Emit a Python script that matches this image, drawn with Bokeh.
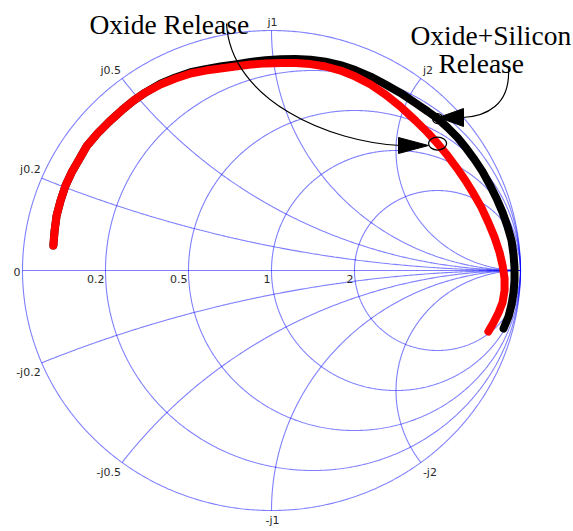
import numpy as np
from bokeh.plotting import figure
from bokeh.models import Range1d
from bokeh.embed import file_html
from bokeh.resources import INLINE
from bokeh.core.properties import value

# ---------------- data (reflection coefficient, real / imaginary) ----------------
oxide_re = [-0.876, -0.871, -0.863, -0.847, -0.827, -0.803, -0.775, -0.743, -0.699,
            -0.651, -0.602, -0.554, -0.506, -0.446, -0.386, -0.325, -0.265, -0.205,
            -0.145, -0.084, -0.024, 0.036, 0.096, 0.157, 0.217, 0.277, 0.337, 0.398,
            0.458, 0.518, 0.578, 0.627, 0.667, 0.707, 0.743, 0.779, 0.811, 0.843,
            0.871, 0.896, 0.916, 0.928, 0.936, 0.936, 0.928, 0.912, 0.892, 0.871]
oxide_im = [0.104, 0.167, 0.229, 0.292, 0.354, 0.408, 0.458, 0.517, 0.571,
            0.621, 0.667, 0.708, 0.742, 0.775, 0.800, 0.821, 0.833, 0.842,
            0.850, 0.858, 0.863, 0.865, 0.865, 0.860, 0.850, 0.833, 0.808, 0.775,
            0.733, 0.683, 0.625, 0.575, 0.529, 0.479, 0.429, 0.375, 0.321, 0.263,
            0.200, 0.138, 0.075, 0.021, -0.033, -0.083, -0.133, -0.175, -0.217, -0.254]

silicon_re = [-0.876, -0.871, -0.863, -0.847, -0.827, -0.803, -0.775, -0.743, -0.699,
              -0.651, -0.602, -0.554, -0.506, -0.446, -0.386, -0.325, -0.265, -0.205,
              -0.145, -0.084, -0.024, 0.036, 0.096, 0.157, 0.217, 0.277, 0.337, 0.398,
              0.458, 0.518, 0.578, 0.627, 0.667, 0.707, 0.747, 0.783, 0.815, 0.847,
              0.876, 0.904, 0.928, 0.948, 0.964, 0.972, 0.976, 0.976, 0.972, 0.964,
              0.952, 0.932]
silicon_im = [0.104, 0.167, 0.229, 0.292, 0.354, 0.408, 0.458, 0.517, 0.571,
              0.621, 0.667, 0.708, 0.742, 0.778, 0.804, 0.826, 0.839, 0.850,
              0.859, 0.869, 0.876, 0.880, 0.881, 0.878, 0.870, 0.856, 0.835, 0.808,
              0.775, 0.740, 0.698, 0.663, 0.633, 0.596, 0.554, 0.508, 0.463, 0.413,
              0.358, 0.300, 0.242, 0.183, 0.125, 0.067, 0.013, -0.042, -0.092, -0.142,
              -0.192, -0.242]

oxide_mark_idx = 32
silicon_mark_idx = 32

r_values = [0, 0.2, 0.5, 1, 2]
r_labels = ["0", "0.2", "0.5", "1", "2"]
x_values = [0.2, 0.5, 1, 2, -0.2, -0.5, -1, -2]
x_labels = ["j0.2", "j0.5", "j1", "j2", "-j0.2", "-j0.5", "-j1", "-j2"]

# ---------------- layout helpers (picture pixels -> chart units) ----------------
def px(xp):
    return (xp - 271) / 249.0

def py(yp):
    return (270 - yp) / 240.0

W, H = 573, 531
p = figure(width=W, height=H, output_backend="svg", toolbar_location=None,
           x_range=Range1d(px(0), px(W)), y_range=Range1d(py(H), py(0)),
           x_axis_type=None, y_axis_type=None, min_border=0,
           outline_line_color=None, background_fill_color="white",
           border_fill_color="white")
p.grid.visible = False

# ---------------- Smith chart grid ----------------
grid_xs, grid_ys = [], []
t = np.linspace(0, 2 * np.pi, 721)
grid_xs.append(np.cos(t)); grid_ys.append(np.sin(t))
for r in r_values[1:]:
    c, rad = r / (1 + r), 1 / (1 + r)
    grid_xs.append(c + rad * np.cos(t)); grid_ys.append(rad * np.sin(t))
rr = np.concatenate([np.linspace(0, 1, 200), np.logspace(0, 4, 400)])
for xv in x_values:
    z = rr + 1j * xv
    g = (z - 1) / (z + 1)
    grid_xs.append(np.append(g.real, 1.0)); grid_ys.append(np.append(g.imag, 0.0))
grid_xs.append(np.array([-1.0, 1.0])); grid_ys.append(np.array([0.0, 0.0]))
p.multi_line(xs=[list(a) for a in grid_xs], ys=[list(a) for a in grid_ys],
             line_color="#0000ff", line_alpha=0.5, line_width=1.1)

# grid labels
lab_font = value("DejaVu Sans")
lab_size = "11px"
lab_col = "#2a2a2a"
for rv, lab in zip(r_values, r_labels):
    gx = (rv - 1) / (rv + 1)
    if rv == 0:
        p.text(x=[gx], y=[0], text=[lab], text_align="right", text_baseline="middle",
               x_offset=-2, y_offset=1, text_font=lab_font, text_font_size=lab_size,
               text_color=lab_col)
    else:
        p.text(x=[gx], y=[0], text=[lab], text_align="right", text_baseline="top",
               x_offset=-1, y_offset=4, text_font=lab_font, text_font_size=lab_size,
               text_color=lab_col)
for xv, lab in zip(x_values, x_labels):
    g = (1j * xv - 1) / (1j * xv + 1)
    if g.real < -0.01:
        al, xo = "right", -1
    elif g.real > 0.01:
        al, xo = "left", 2
    else:
        al, xo = "center", 1
    if xv > 0:
        bl, yo = "bottom", -2
    else:
        bl, yo = "top", 3
    p.text(x=[g.real], y=[g.imag], text=[lab], text_align=al, text_baseline=bl,
           x_offset=xo, y_offset=yo, text_font=lab_font, text_font_size=lab_size,
           text_color=lab_col)

# ---------------- data curves ----------------
p.line(silicon_re, silicon_im, line_color="black", line_width=8, line_cap="round",
       line_join="round")
p.line(oxide_re, oxide_im, line_color="#ff0000", line_width=8, line_cap="round",
       line_join="round")

# markers on the curves
p.ellipse(x=[oxide_re[oxide_mark_idx]], y=[oxide_im[oxide_mark_idx]],
          width=[18 / 249], height=[13 / 240], fill_color=None,
          line_color="black", line_width=1.3)
p.ellipse(x=[silicon_re[silicon_mark_idx]], y=[silicon_im[silicon_mark_idx]],
          width=[10 / 249], height=[10 / 240], fill_color=None,
          line_color="black", line_width=1.3)

# ---------------- annotations ----------------
serif = value("Liberation Serif")
fs = "27.5px"
p.text(x=[px(89)], y=[py(24)], text=["Oxide Release"], text_font=serif,
       text_font_size=fs, text_baseline="alphabetic", text_color="black")
p.text(x=[px(410)], y=[py(35)], text=["Oxide+Silicon"], text_font=serif,
       text_font_size=fs, text_baseline="alphabetic", text_color="black")
p.text(x=[px(438)], y=[py(63)], text=["Release"], text_font=serif,
       text_font_size=fs, text_baseline="alphabetic", text_color="black")

# arrow: Oxide Release
p.bezier(x0=[px(226)], y0=[py(23)], x1=[px(400)], y1=[py(145)],
         cx0=[px(230)], cy0=[py(100)], cx1=[px(330)], cy1=[py(142)],
         line_color="black", line_width=1.2)
# arrow: Oxide+Silicon Release
p.bezier(x0=[px(508)], y0=[py(68)], x1=[px(462)], y1=[py(117)],
         cx0=[px(510)], cy0=[py(105)], cx1=[px(485)], cy1=[py(116)],
         line_color="black", line_width=1.2)
# arrow heads
p.patches(xs=[[px(428), px(398), px(398)], [px(438), px(463), px(463)]],
          ys=[[py(145), py(137), py(153)], [py(117), py(108), py(126)]],
          fill_color="black", line_color="black", line_width=1)

open("out.html", "w").write(file_html(p, INLINE))
